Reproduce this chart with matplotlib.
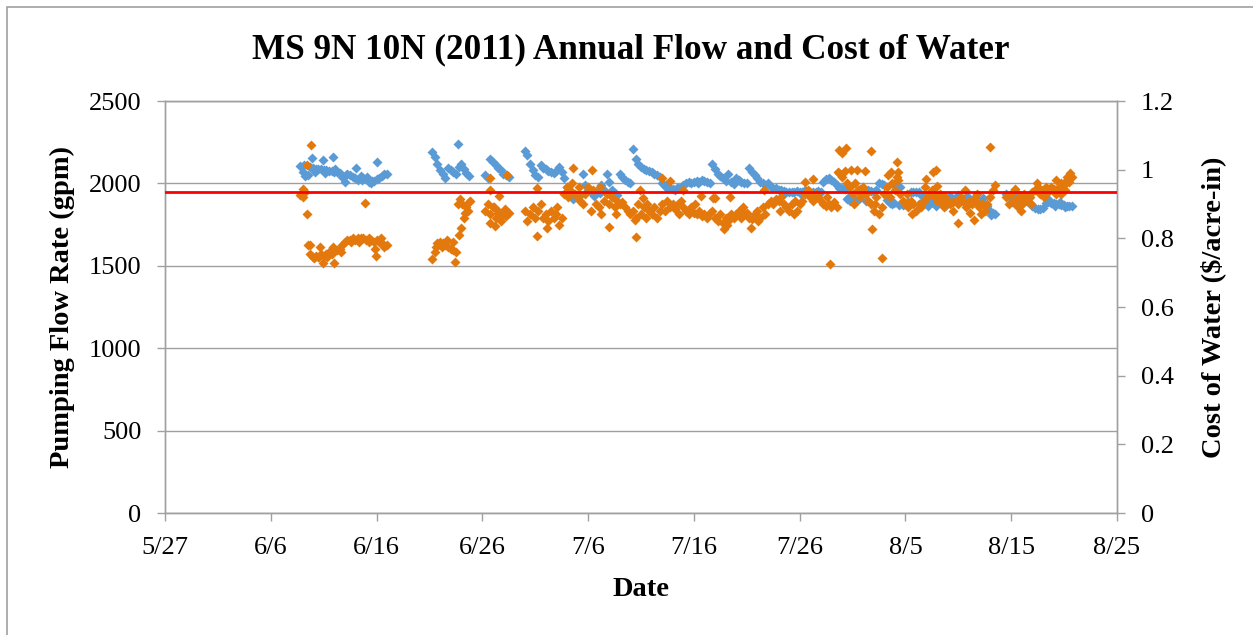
import numpy as np
import matplotlib
matplotlib.use('Agg')
import matplotlib.pyplot as plt
from matplotlib.patches import Rectangle

# ---------------- data ----------------
title = "MS 9N 10N (2011) Annual Flow and Cost of Water"
x_tick_days = [0, 10, 20, 30, 40, 50, 60, 70, 80, 90]          # days since 5/27/2011
x_tick_labels = ['5/27', '6/6', '6/16', '6/26', '7/6', '7/16', '7/26', '8/5', '8/15', '8/25']
left_ticks = [0, 500, 1000, 1500, 2000, 2500]
right_ticks = [0, 0.2, 0.4, 0.6, 0.8, 1.0, 1.2]
right_tick_labels = ['0', '0.2', '0.4', '0.6', '0.8', '1', '1.2']

sample_step_days = 0.25                     # readings every 6 hours
segment_start_days = [12.75, 25.25, 30.25, 34.0, 79.5]

flow_A = [2105, 2070, 2045, 2050, 2100, 2095, 2090, 2085, 2085, 2080, 2080, 2075,
          2075, 2072, 2070, 2065, 2040, 2010, 2060, 2050, 2040, 2030, 2020, 2045,
          2035, 2025, 2010, 2000, 2015, 2025, 2035, 2045, 2055, 2060]
flow_B = [2190, 2160, 2120, 2080, 2055, 2030, 2095, 2080, 2070, 2060, 2100, 2115,
          2090, 2065, 2045]
flow_C = [2050, 2030, 2150, 2130, 2110, 2095, 2080, 2060, 2050, 2040]
flow_D = [2195, 2170, 2120, 2080,  2050, 2040, 2110, 2095,  2085, 2075, 2070, 2065,
          2075, 2100, 2070, 2030,  1980, 1940, 1930, 1920,  1910, 1930, 2060, 1990,
          1960, 1950, 1945, 1940,  1960, 1990, 1960, 2060,  2010, 1960, 1940, 1930,
          2060, 2040, 2020, 2010,  2005, 2210, 2150, 2120,  2100, 2090, 2080, 2075,
          2070, 2060, 2050, 2040,  2000, 1985, 1975, 1970,  1965, 1960, 1975, 1980,
          1990, 2000, 2010, 2005,  2010, 2015, 2010, 2020,  2015, 2010, 2005, 2120,
          2085, 2060, 2045, 2030,  2015, 2060, 2010, 1995,  2030, 2020, 2010, 2000,
          2000, 2095, 2070, 2050,  2030, 2010, 2000, 1990,  2000, 1980, 1975, 1970,
          1960, 1960, 1955, 1950,  1950, 1945, 1950, 1955,  1945, 1950, 1960, 1955,
          1950, 1945, 1950, 1955,  1950, 2010, 2025, 2030,  2020, 2010, 1990, 1975,
          1970, 1965, 1905, 1895,  1890, 1900, 1960, 1965,  1960, 1895, 1960, 1955,
          1950, 1960, 2000, 1995,  1990, 1900, 1880, 1875,  1985, 1975, 1980, 1870,
          1880, 1890, 1950, 1945,  1950, 1945, 1930, 1900,  1890, 1880, 1885, 1880,
          1890, 1885, 1880, 1875,  1885, 1880, 1900, 1905,  1900, 1895, 1890, 1885,
          1895, 1890, 1885, 1880,  1875, 1880, 1870, 1860,  1835, 1820, 1815]
flow_E = [1935, 1925, 1915, 1920, 1910, 1905, 1915, 1900, 1895, 1880, 1860, 1850,
          1845, 1845, 1850, 1880, 1885, 1880, 1880, 1875, 1875, 1870, 1870, 1865,
          1865, 1860]

cost_A = [0.925, 0.945, 0.935, 0.78, 0.755, 0.745, 0.75, 0.745, 0.755, 0.75, 0.755,
          0.76, 0.755, 0.765, 0.765, 0.77, 0.78, 0.79, 0.795, 0.795, 0.80, 0.795,
          0.80, 0.80, 0.80, 0.795, 0.80, 0.795, 0.79, 0.795, 0.79, 0.785, 0.775, 0.78]
cost_B = [0.74, 0.76, 0.785, 0.79, 0.785, 0.78, 0.775, 0.77, 0.765, 0.76, 0.81, 0.83,
          0.86, 0.89, 0.905]
cost_C = [0.88, 0.90, 0.87, 0.89, 0.86, 0.875, 0.85, 0.87, 0.865, 0.875]
cost_D = [0.88, 0.85, 0.87, 0.89,  0.86, 0.88, 0.90, 0.86,  0.87, 0.85, 0.88, 0.86,
          0.87, 0.84, 0.86, 0.93,  0.95, 0.94, 0.96, 0.93,  0.92, 0.91, 0.90, 0.93,
          0.95, 0.88, 0.94, 0.90,  0.89, 0.87, 0.91, 0.93,  0.90, 0.92, 0.89, 0.91,
          0.90, 0.905, 0.89, 0.88,  0.87, 0.88, 0.86, 0.90,  0.87, 0.89, 0.86, 0.88,
          0.87, 0.89, 0.86, 0.88,  0.90, 0.88, 0.91, 0.89,  0.90, 0.885, 0.90, 0.91,
          0.89, 0.88, 0.87, 0.89,  0.875, 0.87, 0.88, 0.865,  0.87, 0.86, 0.875, 0.88,
          0.86, 0.85, 0.87, 0.845,  0.86, 0.85, 0.87, 0.86,  0.87, 0.88, 0.86, 0.87,
          0.875, 0.86, 0.855, 0.87,  0.88, 0.86, 0.89, 0.87,  0.90, 0.91, 0.90, 0.915,
          0.91, 0.92, 0.90, 0.89,  0.88, 0.90, 0.87, 0.88,  0.90, 0.91, 0.93, 0.94,
          0.92, 0.91, 0.93, 0.92,  0.91, 0.90, 0.895, 0.90,  0.89, 0.905, 0.89, 0.99,
          0.98, 0.995, 0.96, 0.95,  0.93, 0.96, 0.94, 0.92,  0.95, 0.93, 0.91, 0.90,
          0.88, 0.92, 0.87, 0.89,  0.93, 0.95, 0.92, 0.96,  0.94, 0.97, 0.93, 0.91,
          0.90, 0.89, 0.91, 0.90,  0.88, 0.90, 0.89, 0.91,  0.92, 0.93, 0.94, 0.92,
          0.91, 0.93, 0.90, 0.92,  0.91, 0.90, 0.905, 0.91,  0.90, 0.92, 0.905, 0.89,
          0.91, 0.90, 0.915, 0.905,  0.89, 0.90, 0.88, 0.90,  0.92, 0.94, 0.955]
cost_E = [0.92, 0.90, 0.93, 0.91, 0.895, 0.92, 0.90, 0.93, 0.91, 0.92, 0.935, 0.94,
          0.95, 0.93, 0.94, 0.95, 0.935, 0.95, 0.945, 0.93, 0.95, 0.96, 0.955, 0.97,
          0.965, 0.98]

# additional individual readings (day since 5/27, value)
flow_extra_days = [13.87, 14.94, 15.88, 18.03, 20.01, 27.73,
                   13.1, 14.2, 15.1, 16.1, 17.1, 18.6, 19.1, 19.6,
                   38.6, 39.1, 40.6, 41.1, 47.4, 48.4, 50.4, 58.6, 60.1, 61.4,
                   64.6, 65.1, 65.6, 66.4, 68.4, 68.9, 69.4, 69.9,
                   71.8, 72.4, 73.0, 73.6, 74.2, 75.0, 75.8, 76.6, 77.3,
                   72.1, 72.9, 73.7, 78.1,
                   80.1, 80.6, 81.1, 81.6, 83.6, 84.1, 84.6, 85.1]
flow_extra_gpm = [2152, 2142, 2162, 2092, 2132, 2239,
                  2110, 2070, 2065, 2085, 2050, 2020, 2040, 2015,
                  1905, 1925, 1925, 1940, 1990, 1970, 2000, 1940, 1935, 1935,
                  1910, 1885, 1905, 1900, 1905, 1880, 1870, 1875,
                  1930, 1925, 1920, 1915, 1925, 1930, 1925, 1915, 1910,
                  1860, 1865, 1860, 1810,
                  1890, 1935, 1880, 1905, 1900, 1860, 1890, 1855]

cost_extra_days = [13.8, 13.4, 13.45, 18.9, 13.7, 14.65, 15.85, 14.94, 15.98, 19.95,
                   19.9, 13.05, 14.1, 14.6, 15.3, 16.6, 17.6, 18.3, 19.3, 20.4,
                   27.22, 27.42, 26.63, 27.9, 28.1, 28.36, 28.64, 28.83, 27.73, 25.6, 26.2,
                   30.72, 30.72, 31.57, 32.36, 30.72, 31.2, 31.7, 31.1, 31.45, 32.1,
                   35.14, 35.2, 38.6, 40.34, 42.0, 44.5, 44.43, 44.9, 52.8, 55.4,
                   47.74, 46.95, 49.0, 45.2, 51.8, 53.4, 50.7, 52.0, 56.6,
                   60.5, 61.26, 62.9, 63.6, 63.7, 63.98, 64.4, 64.9, 65.4, 66.2,
                   66.7, 66.8, 67.8, 68.35, 68.6, 69.17, 69.3, 69.2, 71.9, 71.85,
                   72.6, 72.9, 73.0, 75.0, 76.1, 76.5, 74.5, 78.0, 75.6,
                   36.1, 37.1, 38.1, 39.1, 41.1, 42.6, 45.6, 48.6, 50.1, 53.1,
                   54.6, 56.1, 58.1, 59.6, 62.6, 65.1, 67.1, 70.1, 70.6, 73.6, 76.8, 77.1,
                   80.36, 84.2, 85.3, 85.5, 85.6, 80.9, 81.9, 83.1, 84.7, 85.1, 82.4]
cost_extra_usd = [1.072, 1.014, 0.87, 0.904, 0.78, 0.776, 0.775, 0.729, 0.729, 0.749,
                  0.77, 0.92, 0.742, 0.745, 0.745, 0.76, 0.79, 0.79, 0.79, 0.80,
                  0.79, 0.732, 0.795, 0.915, 0.90, 0.874, 0.88, 0.91, 0.90, 0.775, 0.775,
                  0.976, 0.941, 0.923, 0.984, 0.845, 0.835, 0.86, 0.89, 0.88, 0.885,
                  0.946, 0.808, 1.006, 0.999, 0.832, 0.805, 0.853, 0.941, 0.826, 0.831,
                  0.967, 0.975, 0.941, 0.917, 0.917, 0.921, 0.923, 0.918, 0.941,
                  0.965, 0.973, 0.724, 0.993, 1.057, 1.048, 1.062, 0.999, 1.0, 0.997,
                  1.055, 0.826, 0.744, 0.985, 0.993, 1.023, 0.994, 0.98, 0.972, 0.95,
                  0.993, 1.0, 0.952, 0.845, 0.875, 0.853, 0.88, 1.065, 0.94,
                  0.83, 0.89, 0.92, 0.95, 0.95, 0.87, 0.90, 0.87, 0.90, 0.84,
                  0.89, 0.85, 0.88, 0.91, 0.92, 0.90, 0.90, 0.93, 0.87, 0.89, 0.93, 0.87,
                  0.944, 0.97, 0.98, 0.98, 0.99, 0.88, 0.90, 0.92, 0.93, 0.94, 0.96]

reference_cost = 0.935          # red reference line ($/acre-in)

# ---------------- assemble series ----------------
flow_segments = [flow_A, flow_B, flow_C, flow_D, flow_E]
cost_segments = [cost_A, cost_B, cost_C, cost_D, cost_E]

def seg_days(start, n):
    return start + sample_step_days * np.arange(n)

flow_days = np.concatenate([seg_days(s, len(v)) for s, v in zip(segment_start_days, flow_segments)]
                           + [np.array(flow_extra_days)])
flow_vals = np.concatenate([np.array(v, float) for v in flow_segments] + [np.array(flow_extra_gpm, float)])
cost_days = np.concatenate([seg_days(s, len(v)) for s, v in zip(segment_start_days, cost_segments)]
                           + [np.array(cost_extra_days)])
cost_vals = np.concatenate([np.array(v, float) for v in cost_segments] + [np.array(cost_extra_usd, float)])

# ---------------- figure ----------------
plt.rcParams['font.family'] = ['Liberation Serif', 'DejaVu Serif']
W, H = 1253, 635
fig = plt.figure(figsize=(W / 100, H / 100), dpi=100)
fig.patch.set_facecolor('white')

ax = fig.add_axes([165 / W, 1 - 513 / H, (1117 - 165) / W, (513 - 101) / H])
ax2 = ax.twinx()

blue = '#5B9BD5'
orange = '#E3780C'
gray = '#A0A0A0'

ax.plot(flow_days, flow_vals, linestyle='none', marker='D', markersize=5.6,
        markerfacecolor=blue, markeredgecolor='none', zorder=3)
ax2.plot(cost_days, cost_vals, linestyle='none', marker='D', markersize=5.0,
         markerfacecolor=orange, markeredgecolor='none', zorder=3)
ax2.axhline(reference_cost, color='#FF0000', linewidth=2, zorder=5)

ax.set_xlim(0, 90)
ax.set_ylim(0, 2500)
ax2.set_ylim(0, 1.2)

ax.set_xticks(x_tick_days)
ax.set_xticklabels(x_tick_labels)
ax.set_yticks(left_ticks)
ax.set_yticklabels([str(v) for v in left_ticks])
ax2.set_yticks(right_ticks)
ax2.set_yticklabels(right_tick_labels)

ax.yaxis.grid(True, color=gray, linewidth=1)
ax.set_axisbelow(True)

for a in (ax, ax2):
    for sp in a.spines.values():
        sp.set_color(gray)
        sp.set_linewidth(1)

ax.tick_params(axis='x', direction='out', length=6, width=1, color=gray,
               labelsize=19, pad=11)
ax.tick_params(axis='y', direction='out', length=6, width=1, color=gray,
               labelsize=19, pad=11)
ax2.tick_params(axis='y', direction='out', length=6, width=1, color=gray,
                labelsize=19, pad=11)

fig.text(631 / W, 1 - 50 / H, title, ha='center', va='center',
         fontsize=25.3, fontweight='bold')
fig.text(62 / W, 1 - 307 / H, 'Pumping Flow Rate (gpm)', rotation=90,
         ha='center', va='center', fontsize=20.5, fontweight='bold')
fig.text(1213 / W, 1 - 307 / H, 'Cost of Water ($/acre-in)', rotation=90,
         ha='center', va='center', fontsize=20.5, fontweight='bold')
fig.text(641 / W, 1 - 590 / H, 'Date', ha='center', va='center',
         fontsize=20.5, fontweight='bold')

fig.add_artist(Rectangle((7 / W, -0.2), 1.3, (1 - 7 / H) + 0.2,
                         transform=fig.transFigure, fill=False,
                         edgecolor=gray, linewidth=1.2))

fig.savefig('out.png', dpi=100)
